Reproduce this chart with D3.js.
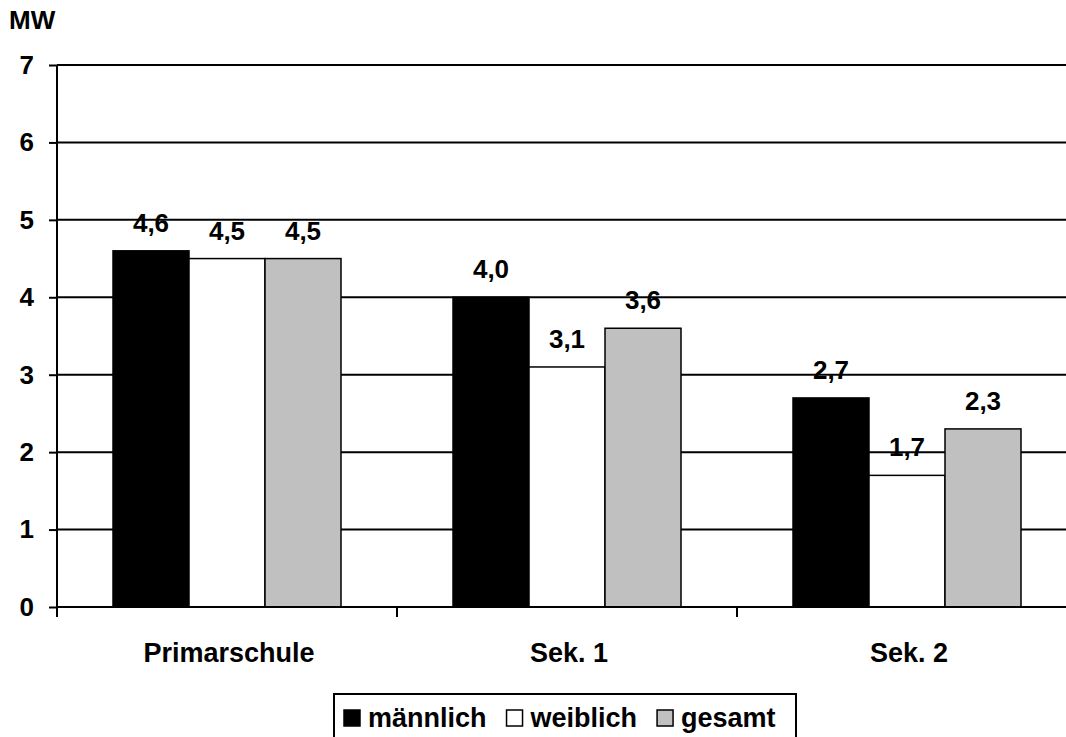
<!DOCTYPE html>
<html>
<head>
<meta charset="utf-8">
<style>
  body { margin: 0; background: #fff; }
  text { font-family: "Liberation Sans", Arial, sans-serif; font-weight: bold; fill: #000; }
</style>
</head>
<body>
<script src="https://cdn.jsdelivr.net/npm/d3@7/dist/d3.min.js"></script>
<script>
  // data
  var categories = ["Primarschule", "Sek. 1", "Sek. 2"];
  var seriesNames = ["männlich", "weiblich", "gesamt"];
  var seriesColors = ["#000000", "#ffffff", "#c0c0c0"];
  var maennlich = [4.6, 4.0, 2.7];
  var weiblich = [4.5, 3.1, 1.7];
  var gesamt = [4.5, 3.6, 2.3];
  var yTicks = [0, 1, 2, 3, 4, 5, 6, 7];

  var seriesValues = [maennlich, weiblich, gesamt];

  var W = 1066, H = 737;
  var plotLeft = 57, plotRight = 1077, plotTop = 65, plotBottom = 607;

  var svg = d3.select("body").append("svg")
    .attr("width", W)
    .attr("height", H);

  var x0 = d3.scaleBand().domain(categories).range([plotLeft, plotRight]).padding(0);
  var x1 = d3.scaleBand().domain(seriesNames).range([56, 284]).padding(0);
  var y = d3.scaleLinear().domain([0, 7]).range([plotBottom, plotTop]);

  // gridlines
  svg.append("g")
    .selectAll("line")
    .data(yTicks.filter(function(d) { return d > 0; }))
    .enter().append("line")
    .attr("x1", plotLeft).attr("x2", plotRight)
    .attr("y1", function(d) { return y(d); })
    .attr("y2", function(d) { return y(d); })
    .attr("stroke", "#000")
    .attr("stroke-width", 2);

  // bars
  var groups = svg.append("g").selectAll("g")
    .data(categories)
    .enter().append("g")
    .attr("transform", function(d) { return "translate(" + x0(d) + ",0)"; });

  function rows(c, i) {
    return seriesNames.map(function(s, j) { return {s: s, j: j, v: seriesValues[j][i]}; });
  }

  groups.selectAll("rect")
    .data(rows)
    .enter().append("rect")
    .attr("x", function(d) { return x1(d.s); })
    .attr("y", function(d) { return y(d.v); })
    .attr("width", x1.bandwidth())
    .attr("height", function(d) { return y(0) - y(d.v); })
    .attr("fill", function(d) { return seriesColors[d.j]; })
    .attr("stroke", "#000")
    .attr("stroke-width", 1.5);

  groups.selectAll("text")
    .data(rows)
    .enter().append("text")
    .attr("x", function(d) { return x1(d.s) + x1.bandwidth() / 2; })
    .attr("y", function(d) { return y(d.v) - 19; })
    .attr("text-anchor", "middle")
    .style("font-size", "26px")
    .text(function(d) { return d.v.toFixed(1).replace(".", ","); });

  // y axis
  var yAxis = svg.append("g")
    .attr("transform", "translate(" + plotLeft + ",0)")
    .call(d3.axisLeft(y).tickValues(yTicks).tickSize(8).tickPadding(15).tickFormat(d3.format("d")));
  yAxis.select(".domain").attr("stroke", "#000").attr("stroke-width", 2)
    .attr("d", "M0," + plotTop + "V" + plotBottom);
  yAxis.selectAll(".tick line").attr("stroke", "#000").attr("stroke-width", 2);
  yAxis.selectAll(".tick text")
    .style("font-size", "26px")
    .style("font-family", "'Liberation Sans', Arial, sans-serif")
    .style("font-weight", "bold")
    .attr("fill", "#000");

  // x axis
  var xAxis = svg.append("g")
    .attr("transform", "translate(0," + plotBottom + ")");
  xAxis.append("line")
    .attr("x1", plotLeft).attr("x2", plotRight)
    .attr("stroke", "#000").attr("stroke-width", 2);
  xAxis.selectAll("line.tk")
    .data(categories.concat(["end"]))
    .enter().append("line")
    .attr("class", "tk")
    .attr("x1", function(d, i) { return plotLeft + i * x0.bandwidth(); })
    .attr("x2", function(d, i) { return plotLeft + i * x0.bandwidth(); })
    .attr("y1", 0).attr("y2", 10)
    .attr("stroke", "#000").attr("stroke-width", 2);
  xAxis.selectAll("text")
    .data(categories)
    .enter().append("text")
    .attr("x", function(d) { return x0(d) + x0.bandwidth() / 2 + 2; })
    .attr("y", 55)
    .attr("text-anchor", "middle")
    .style("font-size", "27px")
    .text(function(d) { return d; });

  // unit label
  svg.append("text")
    .attr("x", 9).attr("y", 29)
    .style("font-size", "26px")
    .text("MW");

  // legend
  var legend = svg.append("g");
  legend.append("rect")
    .attr("x", 334).attr("y", 694)
    .attr("width", 462).attr("height", 60)
    .attr("fill", "#fff")
    .attr("stroke", "#000").attr("stroke-width", 2);

  var lx = 344;
  seriesNames.forEach(function(s, i) {
    legend.append("rect")
      .attr("x", lx).attr("y", 710)
      .attr("width", 16).attr("height", 16)
      .attr("fill", seriesColors[i])
      .attr("stroke", "#000").attr("stroke-width", 1.5);
    var t = legend.append("text")
      .attr("x", lx + 24).attr("y", 727)
      .style("font-size", "27px")
      .text(s);
    lx = lx + 24 + t.node().getComputedTextLength() + 20;
  });
</script>
</body>
</html>
